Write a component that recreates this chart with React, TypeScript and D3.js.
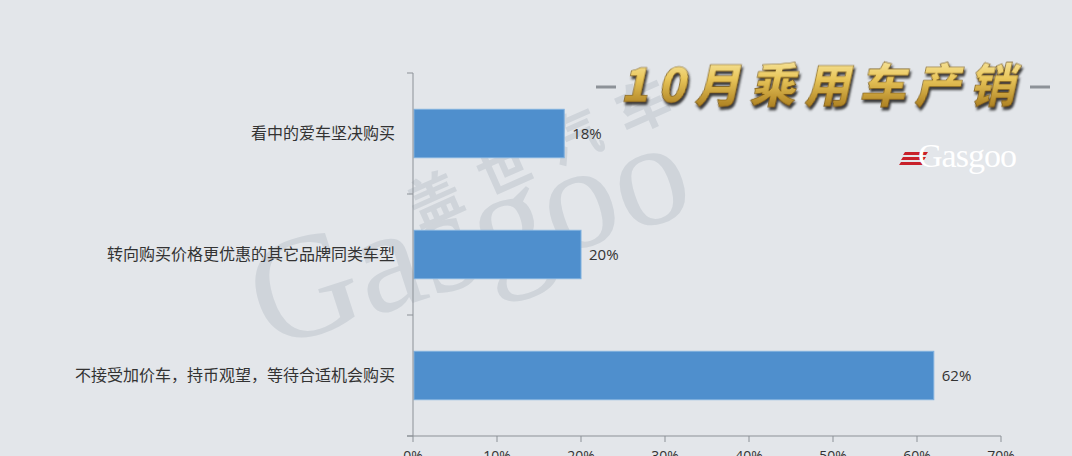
import React from "react";
import * as d3 from "d3";

const categories = [
  "看中的爱车坚决购买",
  "转向购买价格更优惠的其它品牌同类车型",
  "不接受加价车，持币观望，等待合适机会购买",
];
const values = [18, 20, 62];
const valueLabels = ["18%", "20%", "62%"];
const xTicks = [0, 10, 20, 30, 40, 50, 60, 70];
const xTickLabels = ["0%", "10%", "20%", "30%", "40%", "50%", "60%", "70%"];
const titleText = "10月乘用车产销";

const W = 1072;
const H = 456;
const margin = { left: 413, right: 71, top: 73, bottom: 20 };

export default function App() {
  const x = d3.scaleLinear().domain([0, 70]).range([margin.left, W - margin.right]);
  const y = d3
    .scaleBand<string>()
    .domain(categories)
    .range([margin.top, H - margin.bottom])
    .paddingInner(0.6)
    .paddingOuter(0.3);
  const yBase = H - margin.bottom;
  const band = (H - margin.bottom - margin.top) / categories.length;
  const bTicks = d3.range(categories.length + 1).map((i) => margin.top + i * band);
  const axisColor = "#8c9197";
  const cjk = "'Noto Sans CJK SC', 'Noto Sans', sans-serif";

  return (
    <svg
      width={W}
      height={H}
      style={{ position: "absolute", left: 0, top: 0, display: "block" }}
      xmlns="http://www.w3.org/2000/svg"
    >
      <defs>
        <linearGradient id="gold" x1="0" y1="0" x2="0" y2="1">
          <stop offset="0" stopColor="#fff6c4" />
          <stop offset="0.45" stopColor="#e9c65a" />
          <stop offset="1" stopColor="#9c6d12" />
        </linearGradient>
        <filter id="shadow" x="-10%" y="-20%" width="120%" height="150%">
          <feDropShadow dx="2" dy="3" stdDeviation="1.2" floodColor="#2a2a2a" floodOpacity="0.9" />
        </filter>
      </defs>
      <rect x={0} y={0} width={W} height={H} fill="#e3e6ea" />

      {/* watermark */}
      <g fill="#cfd4da">
        <text
          x={0}
          y={0}
          transform="translate(418,228) rotate(-24)"
          fontFamily={cjk}
          fontWeight={700}
          fontSize={54}
          letterSpacing={22}
        >
          盖世汽车
        </text>
        <text
          x={0}
          y={0}
          transform="translate(268,350) rotate(-18)"
          fontFamily="'Liberation Serif', 'DejaVu Serif', serif"
          fontSize={148}
        >
          Gasgoo
        </text>
      </g>

      {/* bars */}
      {categories.map((c, i) => (
        <rect
          key={c}
          x={x(0) + 1}
          y={y(c)}
          width={x(values[i]) - x(0) - 1}
          height={y.bandwidth()}
          fill="#4f8fcd"
          stroke="#7fb0de"
          strokeWidth={1}
        />
      ))}
      {categories.map((c, i) => (
        <text
          key={c + "v"}
          x={x(values[i]) + 8}
          y={(y(c) as number) + y.bandwidth() / 2}
          dy="0.35em"
          fontFamily="'Open Sans', 'Liberation Sans', sans-serif"
          fontSize={15}
          fill="#333"
        >
          {valueLabels[i]}
        </text>
      ))}

      {/* y axis */}
      <line x1={x(0)} x2={x(0)} y1={margin.top} y2={yBase} stroke={axisColor} strokeWidth={1} />
      {bTicks.map((t, i) => (
        <line key={"bt" + i} x1={x(0) - 6} x2={x(0)} y1={t} y2={t} stroke={axisColor} strokeWidth={1} />
      ))}
      {categories.map((c) => (
        <text
          key={c + "l"}
          x={395}
          y={(y(c) as number) + y.bandwidth() / 2}
          dy="0.35em"
          textAnchor="end"
          fontFamily={cjk}
          fontSize={16}
          fill="#333"
        >
          {c}
        </text>
      ))}

      {/* x axis */}
      <line x1={x(0) - 6} x2={x(70)} y1={yBase} y2={yBase} stroke={axisColor} strokeWidth={1} />
      {xTicks.map((t, i) => (
        <g key={"xt" + t}>
          <line x1={x(t)} x2={x(t)} y1={yBase} y2={yBase + 6} stroke={axisColor} strokeWidth={1} />
          <text
            x={x(t)}
            y={yBase + 25}
            textAnchor="middle"
            fontFamily="'Open Sans', 'Liberation Sans', sans-serif"
            fontSize={14}
            fill="#333"
          >
            {xTickLabels[i]}
          </text>
        </g>
      ))}

      {/* title */}
      <line x1={596} x2={616} y1={87} y2={87} stroke="#8d9298" strokeWidth={3} />
      <line x1={1030} x2={1050} y1={87} y2={87} stroke="#8d9298" strokeWidth={3} />
      <text
        x={823}
        y={102}
        textAnchor="middle"
        fontFamily={cjk}
        fontWeight={900}
        fontSize={46}
        letterSpacing={9}
        fill="url(#gold)"
        stroke="#6b4a08"
        strokeWidth={0.6}
        filter="url(#shadow)"
        transform="skewX(-12) translate(21,0)"
      >
        {titleText}
      </text>

      {/* Gasgoo logo */}
      <g>
        {[0, 1, 2].map((i) => (
          <polygon
            key={"st" + i}
            points={`${905 - i * 2},${152 + i * 5} ${928 - i * 2},${152 + i * 5} ${926 - i * 2},${155 + i * 5} ${903 - i * 2},${155 + i * 5}`}
            fill="#c8202a"
          />
        ))}
        <text
          x={918}
          y={167}
          fontFamily="'Liberation Serif', 'DejaVu Serif', serif"
          fontSize={34}
          fill="#ffffff"
          letterSpacing={-1}
        >
          Gasgoo
        </text>
      </g>
    </svg>
  );
}
